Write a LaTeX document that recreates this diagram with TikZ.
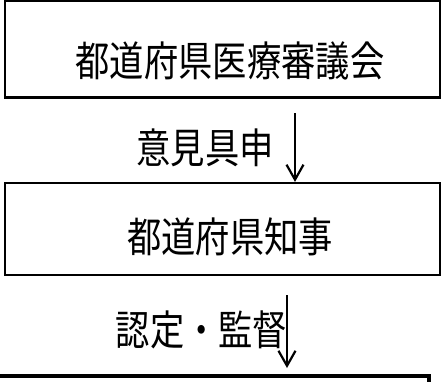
\documentclass[tikz,border=0pt]{standalone}
\usepackage{fontspec}
\newfontfamily\jp{Noto Sans CJK JP}
\usetikzlibrary{arrows.meta}
\newcommand{\tallj}[1]{\scalebox{0.98}[1.18]{#1}}
\tikzset{
  box/.style={draw=black, line width=2.2pt, inner sep=0pt, fill=none},
  jtext/.style={font=\jp\fontsize{35pt}{35pt}\selectfont, inner sep=0pt, anchor=center},
  arr/.style={draw=black, line width=2.2pt, -{Straight Barb[length=15pt,width=17pt,line width=2.2pt]}}
}
\begin{document}
\begin{tikzpicture}[x=1pt,y=-1pt]
  \useasboundingbox (0,0) rectangle (441,381);
  \fill[white] (0,0) rectangle (441,381);
  % box 1
  \node[box, minimum width=435pt, minimum height=97pt] (b1) at (222.5,49) {};
  \node[jtext] (t1) at (230,61) {\tallj{都道府県医療審議会}};
  % box 2
  \node[box, minimum width=435pt, minimum height=92pt] (b2) at (222.5,229) {};
  \node[jtext] (t2) at (230,237) {\tallj{都道府県知事}};
  % box 3 (cut off)
  \node[draw=black, line width=4pt, inner sep=0pt, minimum width=440pt, minimum height=40pt] (b3) at (209,396) {};
  % arrow 1
  \coordinate (a1s) at (295,113);
  \draw[arr] (a1s) -- (a1s |- b2.north);
  \node[jtext] (l1) at (205,148) {\tallj{意見具申}};
  % arrow 2
  \coordinate (a2s) at (287,295);
  \coordinate (a2e) at (287,368);
  \draw[arr] (a2s) -- (a2e);
  \node[jtext] (l2) at (201.5,330) {\tallj{認定・監督}};
\end{tikzpicture}
\end{document}
